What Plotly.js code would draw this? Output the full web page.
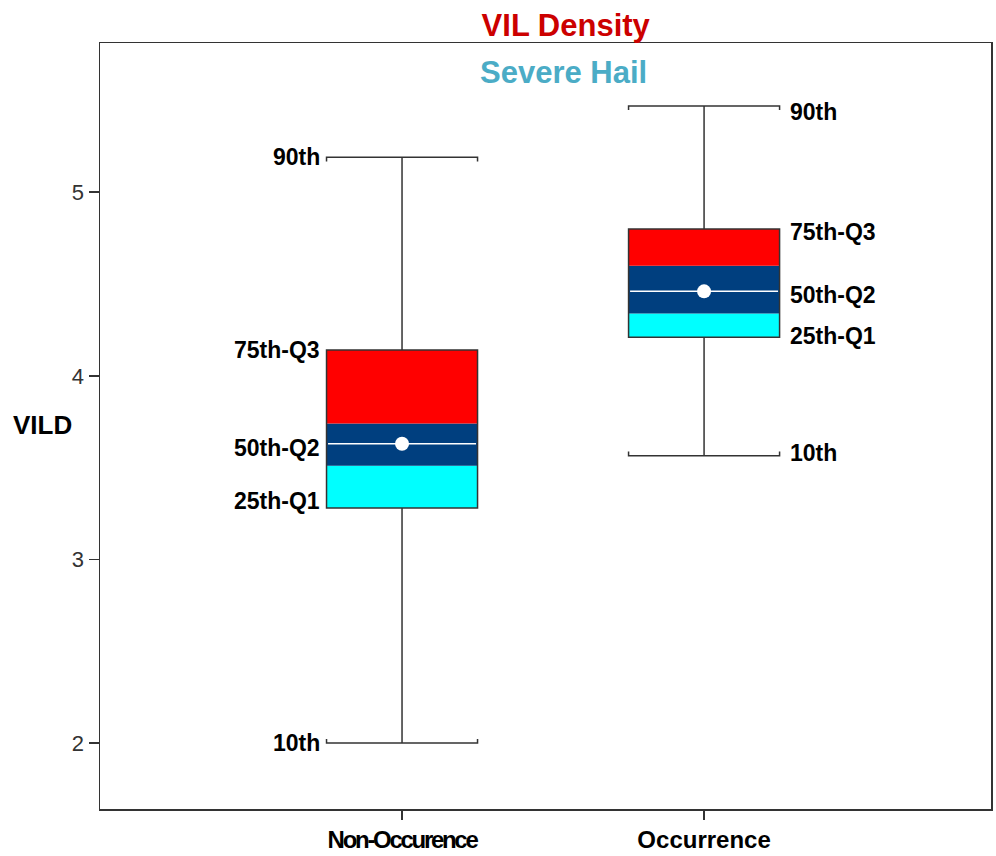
<!DOCTYPE html>
<html>
<head>
<meta charset="utf-8">
<script src="https://cdn.plot.ly/plotly-3.0.1.min.js"></script>
<style>html,body{margin:0;padding:0;background:#fff;}#chart{width:996px;height:856px;}</style>
</head>
<body>
<div id="chart"></div>
<script>
// ---- data ----
const categories = ["Non-Occurence", "Occurrence"];
const p10      = [2.00, 3.565];
const q1       = [3.28, 4.21];
const bandLow  = [3.51, 4.34];
const median   = [3.63, 4.46];
const bandHigh = [3.74, 4.60];
const q3       = [4.14, 4.80];
const p90      = [5.19, 5.47];
const yTicks   = [2, 3, 4, 5];

// ---- styling constants ----
const pos = categories.map((c, i) => i + 1);
const halfW = 0.25;
const capTick = 0.022;
const lineCol = '#333333';
const FONT = 'Liberation Sans, Arial, sans-serif';

const traces = [];
// colored segments of boxes
traces.push({type:'bar', x:pos, base:q1, y:q1.map((v,i)=>bandLow[i]-v), width:0.5,
  marker:{color:'#00ffff', line:{width:0}}, hoverinfo:'skip', showlegend:false});
traces.push({type:'bar', x:pos, base:bandLow, y:bandLow.map((v,i)=>bandHigh[i]-v), width:0.5,
  marker:{color:'#003f7f', line:{width:0}}, hoverinfo:'skip', showlegend:false});
traces.push({type:'bar', x:pos, base:bandHigh, y:bandHigh.map((v,i)=>q3[i]-v), width:0.5,
  marker:{color:'#ff0000', line:{width:0}}, hoverinfo:'skip', showlegend:false});
// outline
traces.push({type:'bar', x:pos, base:q1, y:q1.map((v,i)=>q3[i]-v), width:0.5,
  marker:{color:'rgba(0,0,0,0)', line:{width:1.5, color:lineCol}}, hoverinfo:'skip', showlegend:false});

// whiskers
pos.forEach((x, i) => {
  traces.push({type:'scatter', mode:'lines',
    x:[x, x, null, x-halfW, x-halfW, x+halfW, x+halfW, null, x, x, null, x-halfW, x-halfW, x+halfW, x+halfW],
    y:[q3[i], p90[i], null, p90[i]-capTick, p90[i], p90[i], p90[i]-capTick, null,
       q1[i], p10[i], null, p10[i]+capTick, p10[i], p10[i], p10[i]+capTick],
    line:{color:lineCol, width:1.5}, hoverinfo:'skip', showlegend:false});
  traces.push({type:'scatter', mode:'lines', x:[x-halfW+0.005, x+halfW-0.005], y:[median[i], median[i]],
    line:{color:'#ffffff', width:1.5}, hoverinfo:'skip', showlegend:false});
});
traces.push({type:'scatter', mode:'markers', x:pos, y:median,
  marker:{color:'#ffffff', size:14, line:{width:0}}, hoverinfo:'skip', showlegend:false});

// labels
const annotations = [];
const labelNames = [["90th", p90], ["75th-Q3", q3], ["50th-Q2", median], ["25th-Q1", q1], ["10th", p10]];
const yShiftLeft  = [0, 0, -4, 7, 0];
const yShiftRight = [-6, -3, -4, 1, 3];
labelNames.forEach(([txt, arr], k) => {
  annotations.push({x: pos[0]-halfW, y: arr[0], xref:'x', yref:'y', text:'<b>'+txt+'</b>', showarrow:false,
    xanchor:'right', yanchor:'middle', xshift:-5, yshift:yShiftLeft[k], font:{family:FONT, size:23, color:'#000'}});
  annotations.push({x: pos[1]+halfW, y: arr[1], xref:'x', yref:'y', text:'<b>'+txt+'</b>', showarrow:false,
    xanchor:'left', yanchor:'middle', xshift:8, yshift:yShiftRight[k], font:{family:FONT, size:23, color:'#000'}});
});
annotations.push({xref:'paper', yref:'paper', x:0.52, y:0.962, text:'<b>Severe Hail</b>', showarrow:false,
  xanchor:'center', yanchor:'middle', font:{family:FONT, size:31, color:'#4bacc6'}});
annotations.push({xref:'paper', yref:'paper', x:-0.065, y:0.501, text:'<b>VILD</b>', showarrow:false,
  xanchor:'center', yanchor:'middle', font:{family:FONT, size:26, color:'#000'}});

const tickText = categories.map((c, i) => i === 0
  ? '<span style="letter-spacing:-2.3px"><b>' + c + '</b></span>'
  : '<b>' + c + '</b>');

const layout = {
  width:996, height:856,
  margin:{l:100, r:5, t:43, b:47},
  paper_bgcolor:'#fff', plot_bgcolor:'#fff',
  barmode:'overlay',
  showlegend:false,
  title:{text:'<b>VIL Density</b>', x:0.568, xanchor:'center', y:0.971, yanchor:'middle',
    font:{family:FONT, size:31, color:'#cc0000'}},
  xaxis:{range:[0, 2.95], tickvals:pos, ticktext:tickText, showgrid:false, zeroline:false,
    showline:true, mirror:true, linecolor:lineCol, linewidth:1.5,
    ticks:'outside', ticklen:9, tickwidth:1.5, tickcolor:lineCol,
    tickfont:{family:FONT, size:24, color:'#000'}},
  yaxis:{range:[1.64, 5.813], tickvals:yTicks, ticktext:yTicks.map(String), showgrid:false, zeroline:false,
    showline:true, mirror:true, linecolor:lineCol, linewidth:1.5,
    ticks:'outside', ticklen:10, tickwidth:1.5, tickcolor:lineCol,
    tickfont:{family:FONT, size:22, color:'#333'}},
  annotations: annotations
};

Plotly.newPlot('chart', traces, layout, {displayModeBar:false, staticPlot:true});
</script>
</body>
</html>
